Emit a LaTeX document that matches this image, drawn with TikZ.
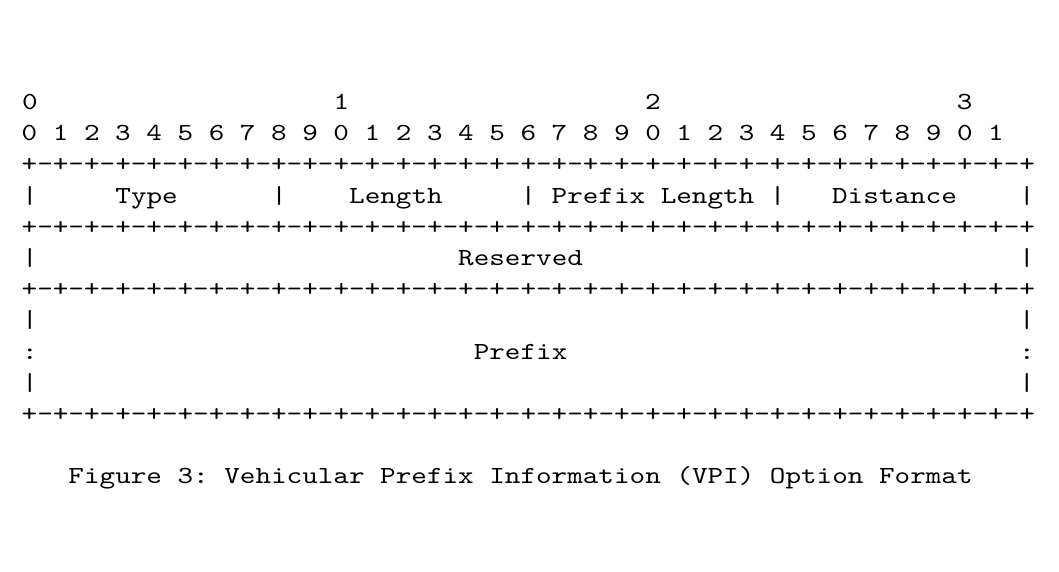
\documentclass[tikz,border=0pt]{standalone}
\usepackage{fontspec}
\newfontfamily\asciifont[FakeStretch=1.21]{lmmono10-regular.otf}
\newcommand{\bitrule}{+-+-+-+-+-+-+-+-+-+-+-+-+-+-+-+-+-+-+-+-+-+-+-+-+-+-+-+-+-+-+-+-+}
\tikzset{asc/.style={font={\asciifont\fontsize{12.27pt}{14pt}\selectfont\frenchspacing}, inner sep=0pt, anchor=base}}

\begin{document}
\begin{tikzpicture}[x=7.79pt, y=-15.6pt, every node/.style=asc]
    \useasboundingbox (-1.913,-3.51) rectangle (66.06,14.82);

    % bit numbers
    \path (0,0)
    node (d0) {0} ++(20,0)
    node (d1) {1} ++(20,0)
    node (d2) {2} ++(20,0)
    node (d3) {3};
    \path (31,1) node (bits) {0 1 2 3 4 5 6 7 8 9 0 1 2 3 4 5 6 7 8 9 0 1 2 3 4 5 6 7 8 9 0 1};

    % borders
    \foreach \r in {2,4,6,10}
    \path (32,\r) node (rule\r) {\bitrule};

    % first word
    \path (0,3)
    node (bar0) {|} +(7.5,0)
    node (type) {Type} +(16,0)
    node (bar1) {|} +(23.5,0)
    node (len) {Length} +(32,0)
    node (bar2) {|} +(40,0)
    node (plen) {Prefix Length} +(48,0)
    node (bar3) {|} +(55.5,0)
    node (dist) {Distance} +(64,0)
    node (bar4) {|};

    % second word
    \path (0,5)
    node (bar5) {|} +(31.5,0)
    node (res) {Reserved} +(64,0)
    node (bar6) {|};

    % prefix
    \path (0,7)
    node (bar7) {|} +(64,0)
    node (bar8) {|};
    \path (0,8)
    node (dot0) {:} +(31.5,0)
    node (pfx) {Prefix} +(64,0)
    node (dot1) {:};
    \path (0,9)
    node (bar9) {|} +(64,0)
    node (bar10) {|};

    \path (31.5,12) node (cap) {Figure 3: Vehicular Prefix Information (VPI) Option Format};
\end{tikzpicture}
\end{document}
